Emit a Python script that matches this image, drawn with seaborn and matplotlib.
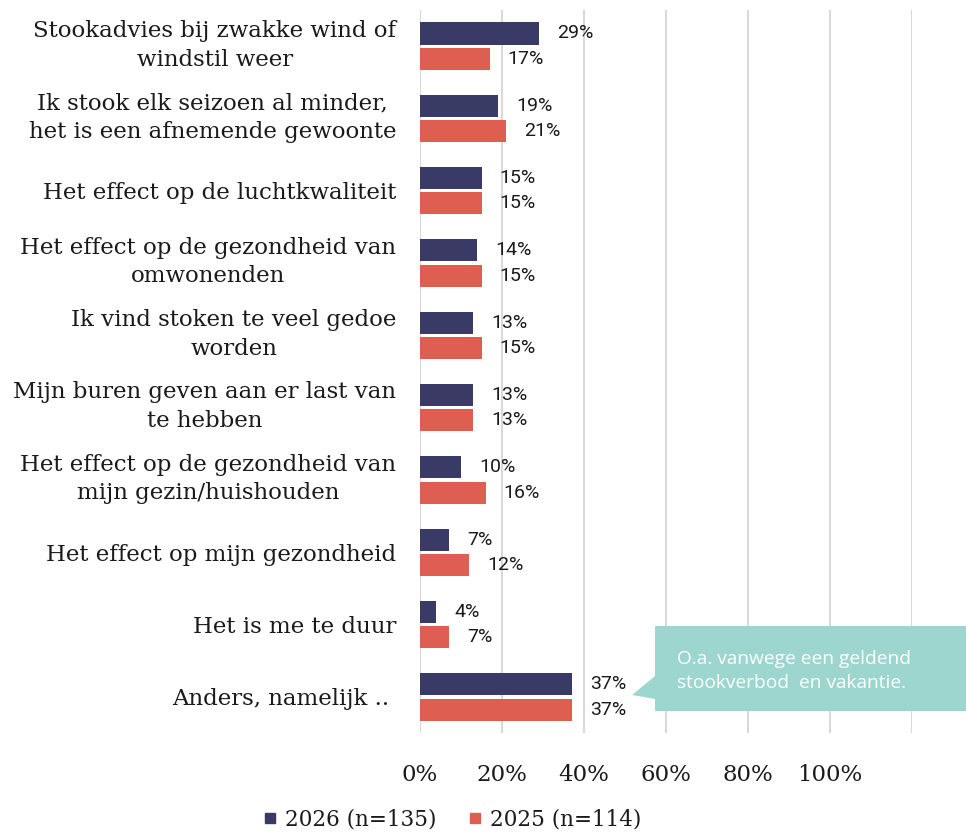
import numpy as np
import pandas as pd
import matplotlib
matplotlib.use("Agg")
import matplotlib.pyplot as plt
import matplotlib.transforms as mtrans
import seaborn as sb
from matplotlib.patches import Polygon

# data
categories = [
    "Stookadvies bij zwakke wind of\nwindstil weer",
    "Ik stook elk seizoen al minder,\nhet is een afnemende gewoonte",
    "Het effect op de luchtkwaliteit",
    "Het effect op de gezondheid van\nomwonenden",
    "Ik vind stoken te veel gedoe\nworden",
    "Mijn buren geven aan er last van\nte hebben",
    "Het effect op de gezondheid van\nmijn gezin/huishouden",
    "Het effect op mijn gezondheid",
    "Het is me te duur",
    "Anders, namelijk .. ",
]
series_names = ["2026 (n=135)", "2025 (n=114)"]
values_2026 = [29, 19, 15, 14, 13, 13, 10, 7, 4, 37]
values_2025 = [17, 21, 15, 15, 15, 13, 16, 12, 7, 37]
x_tick_labels = ["0%", "20%", "40%", "60%", "80%", "100%"]
note_text = "O.a. vanwege een geldend\nstookverbod  en vakantie."

colors = ["#393B66", "#DF5E52"]
text_col = "#1a1a1a"

df = pd.DataFrame({
    "categorie": categories * 2,
    "jaar": [series_names[0]] * len(categories) + [series_names[1]] * len(categories),
    "aandeel": [v / 100 for v in values_2026 + values_2025],
})

sb.set_style("white")
serif = ["DejaVu Serif"]

fig = plt.figure(figsize=(9.66, 8.33), dpi=100)
ax = fig.add_axes([0.4348, 0.12, 0.5093, 0.868])

sb.barplot(data=df, y="categorie", x="aandeel", hue="jaar", orient="h",
           palette=colors, saturation=1, width=0.70, gap=0.13, linewidth=0,
           ax=ax, legend=True)

ax.set_xlim(0, 1.2)
ax.set_ylim(9.5, -0.5)
ax.set_xticks([0, 0.2, 0.4, 0.6, 0.8, 1.0, 1.2])
ax.set_xticklabels(x_tick_labels + [""], fontfamily=serif, fontsize=16.5,
                   color=text_col)
ax.tick_params(axis="x", length=0, pad=22)
ax.tick_params(axis="y", length=0, pad=17)
# twee-regelige labels iets omhoog, zoals in het origineel
shift_up = mtrans.ScaledTranslation(0, 5 / 72, fig.dpi_scale_trans)
for lbl in ax.get_yticklabels():
    lbl.set_fontfamily(serif)
    lbl.set_fontsize(16.5)
    lbl.set_color(text_col)
    lbl.set_multialignment("center")
    lbl.set_linespacing(1.4)
    if "\n" in lbl.get_text():
        lbl.set_transform(lbl.get_transform() + shift_up)
ax.set_xlabel("")
ax.set_ylabel("")
ax.grid(axis="x", color="#D9D9D9", linewidth=1.5)
ax.set_axisbelow(True)
for s in ax.spines.values():
    s.set_visible(False)

# data labels
for cont in ax.containers:
    ax.bar_label(cont, labels=[f"{v * 100:.0f}%" for v in cont.datavalues],
                 padding=13, fontsize=14, fontfamily="Roboto", color=text_col)

# legend
ax.legend_.remove()
handles = [plt.Line2D([], [], marker="s", linestyle="", markersize=7,
                      color=c) for c in colors]
fig.legend(handles, series_names, loc="center", bbox_to_anchor=(0.467, 0.016),
           ncol=2, frameon=False, prop={"family": serif, "size": 15.5},
           labelcolor=text_col, handletextpad=0.3, columnspacing=1.4,
           handlelength=0.8)

# callout box
W, H = 966, 833
def fp(x, y):
    return (x / W, 1 - y / H)
box = [fp(655, 626), fp(966, 626), fp(966, 711), fp(655, 711), fp(655, 699),
       fp(632, 695), fp(655, 676)]
fig.patches.append(Polygon(box, closed=True, transform=fig.transFigure,
                           facecolor="#9DD6CE", edgecolor="none"))
fig.text(677 / W, 1 - 671 / H, note_text, color="white", fontsize=13.8,
         fontfamily="Open Sans", va="center", ha="left", linespacing=1.45)

fig.savefig("out.png", dpi=100)
